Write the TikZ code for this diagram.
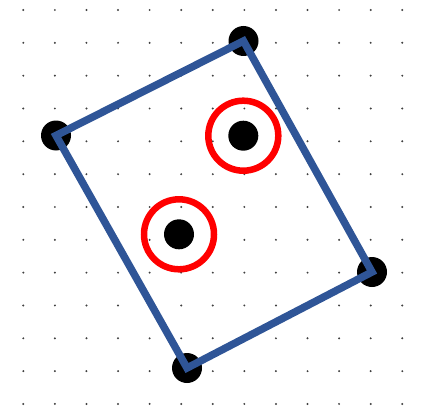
\documentclass[tikz,border=0pt]{standalone}
\usetikzlibrary{positioning}
\definecolor{frameblue}{RGB}{47,85,151}

\begin{document}
\begin{tikzpicture}[x=1pt, y=-1pt]
\useasboundingbox (0,0) rectangle (430,409);

% dot grid
\foreach \i in {0,...,12}
    \foreach \j in {0,...,12}
        \fill[black!75] ({23.3+31.58*\i},{10+32.83*\j}) circle (1.1pt);

\begin{scope}[every node/.style={circle, fill=black, inner sep=0pt, minimum size=30pt}]
    \node (top) at (243.5,41) {};
    \node (left) at (56,135.5) {};
    \node (bottom) at (187,368) {};
    \node (right) at (372,272) {};
    \node (p1) at (243.3,135.7) {};
    \node (p2) at (179,234.3) {};
\end{scope}

\begin{scope}[every node/.style={circle, draw=red, line width=6.5pt, inner sep=0pt, minimum size=70pt}]
    \node (r1) at (p1) {};
    \node (r2) at (p2) {};
\end{scope}

\draw[frameblue, line width=7.5pt] (top.center) -- (right.center) -- (bottom.center) -- (left.center) -- cycle;
\end{tikzpicture}
\end{document}
